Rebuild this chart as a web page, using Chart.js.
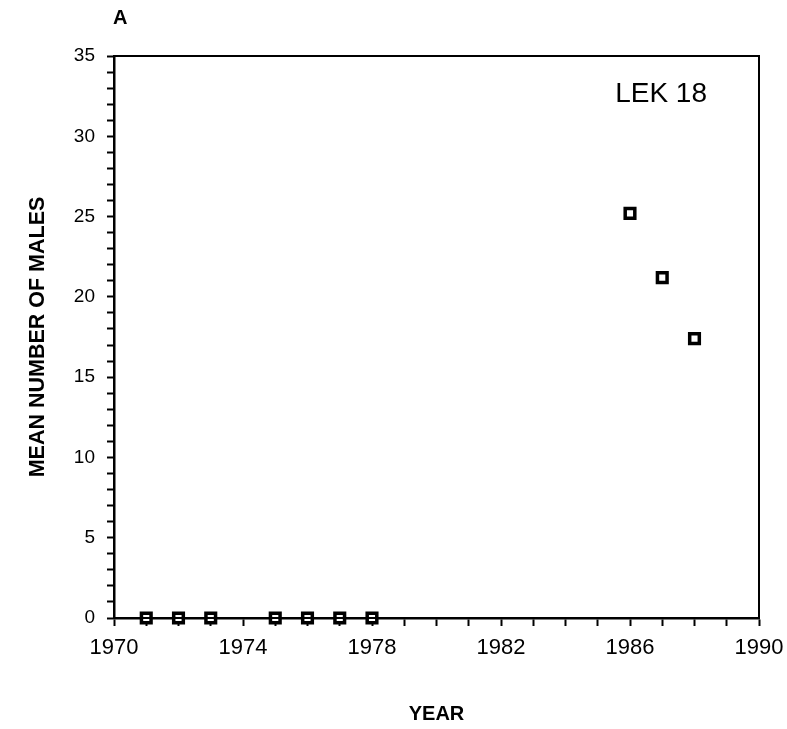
<!DOCTYPE html>
<html>
<head>
<meta charset="utf-8">
<script src="https://cdn.jsdelivr.net/npm/chart.js@4.4.1/dist/chart.umd.min.js"></script>
<style>
    html, body { margin: 0; padding: 0; background: #fff; }
    #wrap { width: 787px; height: 729px; }
</style>
</head>
<body>
<div id="wrap"><canvas id="lekChart"></canvas></div>
<script>
const years = [1971, 1972, 1973, 1975, 1976, 1977, 1978, 1986, 1987, 1988];
const meanMales = [0, 0, 0, 0, 0, 0, 0, 25.2, 21.2, 17.4];
const xTickLabels = [1970, 1974, 1978, 1982, 1986, 1990];
const yTickLabels = [0, 5, 10, 15, 20, 25, 30, 35];
const panelLabel = 'A';
const lekLabel = 'LEK 18';

const FONT = "'Liberation Sans', Arial, Helvetica, sans-serif";

function toPoints() {
    return years.map((y, i) => ({ x: y, y: meanMales[i] }));
}

// frame around the plot plus the two text labels
const framePlugin = {
    id: 'frame',
    afterDraw(chart) {
        const ctx = chart.ctx;
        const a = chart.chartArea;
        ctx.save();
        ctx.strokeStyle = '#000';
        ctx.lineWidth = 2;
        ctx.strokeRect(a.left, a.top, a.right - a.left, a.bottom - a.top);

        ctx.fillStyle = '#000';
        ctx.textBaseline = 'alphabetic';
        ctx.textAlign = 'left';
        ctx.font = 'bold 20px ' + FONT;
        ctx.fillText(panelLabel, a.left - 1, 24);

        ctx.font = '28px ' + FONT;
        ctx.fillText(lekLabel, a.left + (a.right - a.left) * 0.777, 102);
        ctx.restore();
    }
};

document.addEventListener('DOMContentLoaded', function() {
    const ctx = document.getElementById('lekChart');

    new Chart(ctx, {
        type: 'scatter',
        data: {
            datasets: [{
                data: toPoints(),
                pointStyle: 'rect',
                pointRadius: 6.8,
                pointHoverRadius: 6.8,
                borderWidth: 3.5,
                borderColor: '#000',
                backgroundColor: '#fff',
                clip: false
            }, {
                data: toPoints(),
                pointStyle: 'circle',
                pointRadius: 1.3,
                pointHoverRadius: 1.3,
                borderWidth: 0,
                backgroundColor: '#000',
                clip: false
            }]
        },
        options: {
            responsive: true,
            maintainAspectRatio: false,
            animation: false,
            layout: {
                padding: { top: 56, right: 28, bottom: 0, left: 0 }
            },
            plugins: {
                legend: { display: false },
                tooltip: { enabled: false }
            },
            scales: {
                x: {
                    type: 'linear',
                    min: 1970,
                    max: 1990,
                    border: { display: true, color: '#000', width: 2.5 },
                    grid: {
                        drawOnChartArea: false,
                        drawTicks: true,
                        tickLength: 8,
                        tickColor: '#000',
                        tickWidth: 2
                    },
                    ticks: {
                        stepSize: 1,
                        autoSkip: false,
                        maxRotation: 0,
                        padding: 9,
                        color: '#000',
                        font: { family: FONT, size: 22 },
                        callback: function(value) {
                            return xTickLabels.includes(value) ? String(value) : '';
                        }
                    },
                    title: {
                        display: true,
                        text: 'YEAR',
                        color: '#000',
                        font: { family: FONT, size: 20, weight: 'bold' },
                        padding: { top: 0, bottom: 3 }
                    },
                    afterFit: function(scale) {
                        scale.height = 111;
                        scale.paddingLeft = 0;
                        scale.paddingRight = 0;
                    }
                },
                y: {
                    min: 0,
                    max: 35,
                    border: { display: true, color: '#000', width: 2.5 },
                    grid: {
                        drawOnChartArea: false,
                        drawTicks: true,
                        tickLength: 7,
                        tickColor: '#000',
                        tickWidth: 2
                    },
                    ticks: {
                        stepSize: 1,
                        autoSkip: false,
                        padding: 12,
                        color: '#000',
                        font: { family: FONT, size: 19 },
                        callback: function(value) {
                            return yTickLabels.includes(value) ? String(value) : '';
                        }
                    },
                    title: {
                        display: true,
                        text: 'MEAN NUMBER OF MALES',
                        color: '#000',
                        font: { family: FONT, size: 21.5, weight: 'bold' },
                        padding: { top: 25, bottom: 0 }
                    },
                    afterFit: function(scale) {
                        scale.width = 114;
                    }
                }
            }
        },
        plugins: [framePlugin]
    });
});
</script>
</body>
</html>
